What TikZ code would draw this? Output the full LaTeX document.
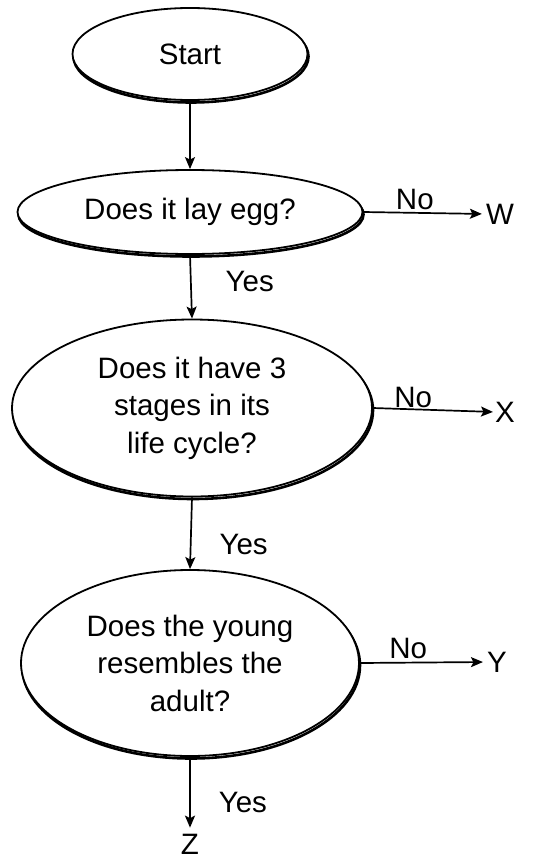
\documentclass[tikz,border=0pt]{standalone}
\usepackage{fontspec}
\setmainfont{Liberation Sans}
\usetikzlibrary{shapes.geometric,arrows.meta,shadows}
\begin{document}
\begin{tikzpicture}[x=1pt,y=-1pt,
  every node/.style={font=\fontsize{29.5}{37.5}\selectfont},
  oval/.style={ellipse, draw=black, line width=1.8pt, fill=white, inner sep=0pt,
    align=center, copy shadow={shadow xshift=1pt, shadow yshift=-2.5pt, draw=black, line width=2.6pt}},
  conn/.style={line width=1.7pt, -{Stealth[length=12pt,width=10pt,inset=2.5pt]}},
  lbl/.style={inner sep=0pt}
]
\useasboundingbox (0,0) rectangle (543,862);
\fill[white] (0,0) rectangle (543,862);

\node[oval, minimum width=235pt, minimum height=92pt] (start) at (190,54) {Start};
\node[oval, minimum width=345pt, minimum height=84pt] (q1) at (190,212) {Does it lay egg?};
\node[oval, minimum width=360pt, minimum height=177pt] (q2) at (192,408) {Does it have 3\\stages in its\\life cycle?};
\node[oval, minimum width=338pt, minimum height=186pt] (q3) at (190,663) {Does the young\\resembles the\\adult?};

\node[lbl] (w) at (500,214) {W};
\node[lbl] (x) at (505,412) {X};
\node[lbl] (y) at (497,662) {Y};
\node[lbl] (z) at (190,844) {Z};

\draw[conn] (start.south) -- (q1.north);
\draw[conn] (q1.south) -- (q2.north) node[lbl, pos=0.42, right=34pt] (yes1) {Yes};
\draw[conn] (q2.south) -- (q3.north) node[lbl, pos=0.65, right=28pt] (yes2) {Yes};
\draw[conn, shorten >=6pt] (q3.south) -- (z.north) node[lbl, pos=0.6, right=28pt] (yes3) {Yes};

\draw[conn, shorten >=4pt] (q1.east) -- (w.west) node[lbl, pos=0.42, above=2pt] (no1) {No};
\draw[conn, shorten >=2pt] (q2.east) -- (x.west) node[lbl, pos=0.33, above=1pt] (no2) {No};
\draw[conn, shorten >=4pt] (q3.east) -- (y.west) node[lbl, pos=0.38, above=3pt] (no3) {No};
\end{tikzpicture}
\end{document}
